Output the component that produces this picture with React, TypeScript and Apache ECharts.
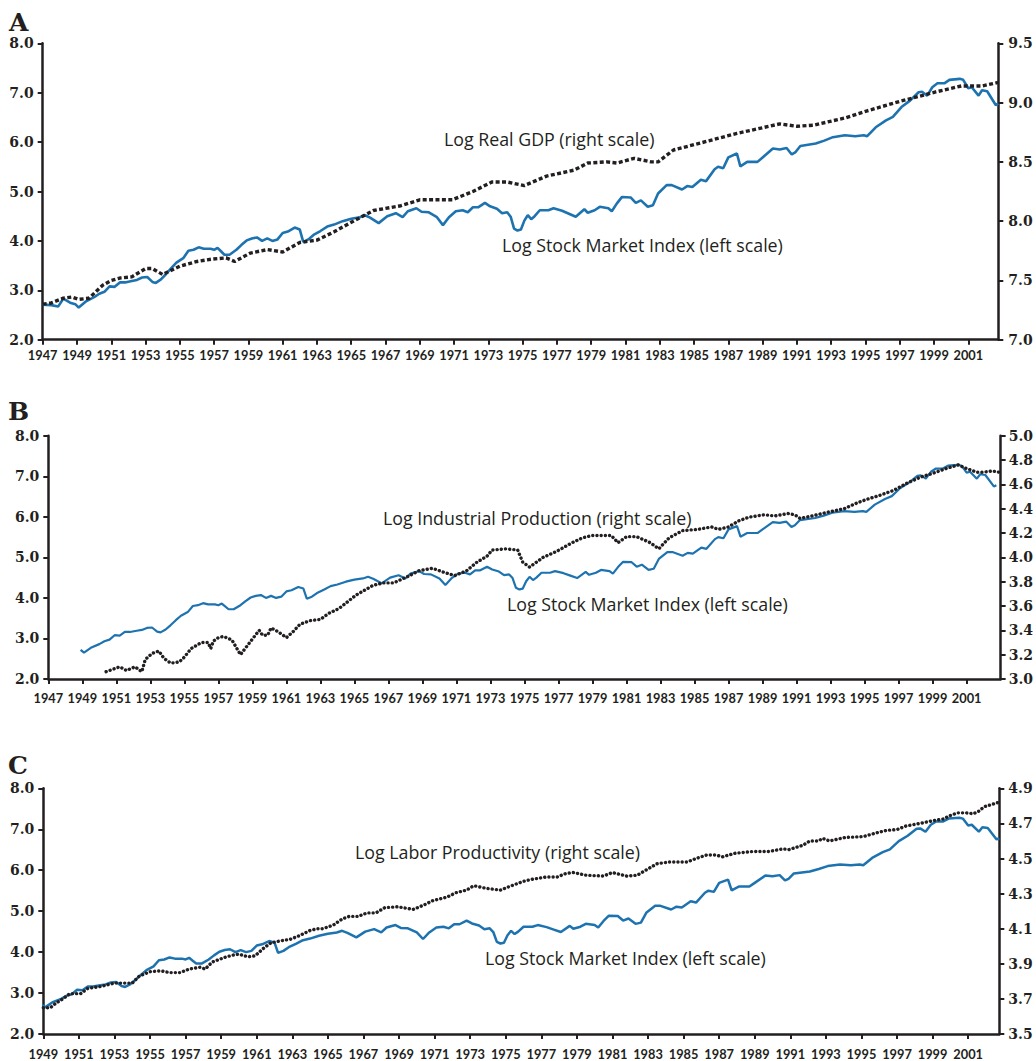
import { useEffect, useRef } from "react";
import * as echarts from "echarts";

// ---------- data ----------
const stockYears = [
  1947.0, 1947.5, 1947.9, 1948.2, 1948.6, 1948.9, 1949.1, 1949.5, 1950.0, 1950.3, 1950.6, 1950.9,
  1951.2, 1951.5, 1951.8, 1952.2, 1952.5, 1952.8, 1953.1, 1953.4, 1953.6, 1953.9, 1954.2, 1954.5,
  1954.8, 1955.2, 1955.5, 1955.8, 1956.1, 1956.4, 1956.8, 1957.0, 1957.2, 1957.4, 1957.6, 1957.9,
  1958.3, 1958.6, 1958.9, 1959.2, 1959.5, 1959.8, 1960.1, 1960.4, 1960.7, 1961.0, 1961.3, 1961.7,
  1962.0, 1962.2, 1962.5, 1962.8, 1963.2, 1963.6, 1964.0, 1964.5, 1965.0, 1965.5, 1965.8, 1966.1,
  1966.6, 1967.1, 1967.6, 1968.0, 1968.3, 1968.8, 1969.1, 1969.5, 1970.0, 1970.35, 1970.7, 1971.1,
  1971.5, 1971.8, 1972.1, 1972.4, 1972.8, 1973.1, 1973.5, 1973.8, 1974.1, 1974.3, 1974.5, 1974.7,
  1974.9, 1975.1, 1975.3, 1975.5, 1975.7, 1976.0, 1976.5, 1976.8, 1977.3, 1977.7, 1978.1, 1978.6,
  1978.8, 1979.2, 1979.5, 1980.0, 1980.2, 1980.5, 1980.8, 1981.3, 1981.6, 1981.9, 1982.3, 1982.6,
  1982.9, 1983.4, 1983.7, 1984.3, 1984.6, 1984.9, 1985.4, 1985.7, 1986.2, 1986.4, 1986.7, 1987.0,
  1987.5, 1987.7, 1988.1, 1988.7, 1989.0, 1989.6, 1990.0, 1990.4, 1990.7, 1990.9, 1991.2, 1992.1,
  1992.6, 1993.1, 1993.8, 1994.4, 1994.9, 1995.1, 1995.6, 1996.2, 1996.6, 1997.1, 1997.6, 1998.1,
  1998.3, 1998.6, 1998.9, 1999.2, 1999.6, 1999.9, 2000.5, 2000.7, 2001.0, 2001.2, 2001.6, 2001.8,
  2002.1, 2002.6, 2002.75,
];
const stockValues = [
  2.71, 2.7, 2.67, 2.83, 2.75, 2.72, 2.65, 2.77, 2.86, 2.93, 2.97, 3.08,
  3.07, 3.16, 3.16, 3.19, 3.21, 3.26, 3.27, 3.17, 3.15, 3.22, 3.33, 3.45,
  3.56, 3.65, 3.8, 3.82, 3.87, 3.84, 3.84, 3.82, 3.86, 3.79, 3.72, 3.72,
  3.82, 3.92, 4.01, 4.05, 4.07, 4.0, 4.05, 4.0, 4.03, 4.16, 4.19, 4.27,
  4.23, 3.98, 4.03, 4.12, 4.2, 4.29, 4.33, 4.4, 4.45, 4.48, 4.52, 4.47,
  4.36, 4.5, 4.56, 4.48, 4.6, 4.66, 4.59, 4.58, 4.48, 4.32, 4.48, 4.6,
  4.62, 4.58, 4.68, 4.68, 4.77, 4.7, 4.65, 4.56, 4.58, 4.49, 4.25, 4.21,
  4.23, 4.41, 4.52, 4.44, 4.5, 4.62, 4.62, 4.66, 4.61, 4.55, 4.49, 4.64,
  4.57, 4.62, 4.69, 4.66, 4.6, 4.76, 4.89, 4.88, 4.77, 4.82, 4.69, 4.72,
  4.96, 5.13, 5.13, 5.04, 5.11, 5.09, 5.24, 5.21, 5.45, 5.5, 5.47, 5.69,
  5.77, 5.51, 5.6, 5.6, 5.69, 5.87, 5.85, 5.88, 5.75, 5.79, 5.92, 5.97,
  6.03, 6.1, 6.14, 6.12, 6.14, 6.12, 6.3, 6.44, 6.51, 6.71, 6.84, 7.01,
  7.02, 6.94, 7.11, 7.19, 7.19, 7.26, 7.28, 7.26, 7.09, 7.11, 6.94, 7.05,
  7.03, 6.75, 6.78,
];

const gdpYears = [
  1947.0, 1947.5, 1948.2, 1948.7, 1949.1, 1949.7, 1950.5, 1951.0, 1951.5, 1952.2, 1953.0, 1953.4,
  1954.0, 1955.0, 1956.0, 1956.9, 1957.7, 1958.2, 1959.1, 1960.1, 1961.0, 1962.0, 1963.0, 1964.0,
  1965.0, 1966.3, 1967.9, 1969.0, 1970.9, 1972.1, 1973.2, 1974.1, 1975.1, 1976.4, 1978.0, 1978.8,
  1979.9, 1980.5, 1981.5, 1982.5, 1982.9, 1983.8, 1985.4, 1987.5, 1990.0, 1991.0, 1992.0, 1993.8,
  1995.1, 1997.0, 1999.1, 2000.6, 2001.8, 2002.75,
];
const gdpValues = [
  7.3, 7.31, 7.35, 7.36, 7.34, 7.35, 7.46, 7.5, 7.52, 7.53, 7.6, 7.6,
  7.55, 7.62, 7.66, 7.68, 7.69, 7.66, 7.73, 7.76, 7.74, 7.82, 7.84, 7.91,
  7.99, 8.09, 8.13, 8.18, 8.18, 8.25, 8.33, 8.33, 8.3, 8.38, 8.43, 8.49,
  8.5, 8.49, 8.53, 8.5, 8.5, 8.6, 8.66, 8.74, 8.82, 8.8, 8.81, 8.87,
  8.93, 9.01, 9.09, 9.14, 9.14, 9.17,
];

const ipYears = [
  1950.4, 1950.8, 1951.2, 1951.6, 1952.1, 1952.5, 1952.7, 1953.1, 1953.5, 1953.8, 1954.2, 1954.7,
  1955.0, 1955.4, 1956.0, 1956.4, 1956.55, 1956.7, 1957.0, 1957.3, 1957.8, 1958.3, 1958.9, 1959.4,
  1959.6, 1959.9, 1960.1, 1960.5, 1961.0, 1961.4, 1961.8, 1962.4, 1963.0, 1963.5, 1964.1, 1965.1,
  1966.1, 1966.7, 1967.3, 1968.1, 1968.8, 1969.6, 1970.2, 1970.9, 1971.6, 1972.2, 1972.8, 1973.1,
  1973.9, 1974.6, 1974.9, 1975.3, 1976.1, 1976.9, 1977.8, 1978.4, 1979.0, 1980.1, 1980.5, 1981.0,
  1981.6, 1982.4, 1982.9, 1983.5, 1984.3, 1985.2, 1986.0, 1986.4, 1987.0, 1987.6, 1988.2, 1989.1,
  1989.7, 1990.5, 1990.9, 1991.2, 1991.9, 1992.8, 1993.8, 1994.6, 1995.2, 1995.9, 1996.7, 1997.5,
  1998.3, 1999.0, 1999.8, 2000.5, 2001.0, 2001.6, 2002.0, 2002.5, 2002.9,
];
const ipValues = [
  3.06, 3.08, 3.1, 3.07, 3.1, 3.06, 3.16, 3.21, 3.23, 3.17, 3.13, 3.14,
  3.18, 3.25, 3.3, 3.3, 3.25, 3.31, 3.34, 3.35, 3.32, 3.2, 3.31, 3.4,
  3.36, 3.36, 3.42, 3.39, 3.34, 3.39, 3.45, 3.48, 3.49, 3.54, 3.58, 3.69,
  3.77, 3.79, 3.79, 3.84, 3.89, 3.91, 3.88, 3.85, 3.89, 3.96, 4.01, 4.06,
  4.07, 4.06, 3.96, 3.92, 4.0, 4.05, 4.12, 4.16, 4.18, 4.18, 4.12, 4.17,
  4.17, 4.12, 4.07, 4.16, 4.22, 4.23, 4.25, 4.23, 4.25, 4.3, 4.33, 4.35,
  4.34, 4.36, 4.35, 4.32, 4.34, 4.37, 4.4, 4.45, 4.48, 4.51, 4.55, 4.61,
  4.66, 4.69, 4.73, 4.76, 4.73, 4.7, 4.7, 4.71, 4.7,
];

const prodYears = [
  1949.0, 1949.4, 1949.7, 1950.1, 1950.5, 1951.1, 1951.5, 1952.2, 1953.0, 1953.5, 1954.0, 1954.4,
  1955.0, 1955.6, 1956.1, 1956.7, 1957.2, 1957.8, 1958.1, 1958.5, 1959.3, 1959.7, 1960.0, 1960.5,
  1960.9, 1961.4, 1961.8, 1962.3, 1962.9, 1963.4, 1964.0, 1964.4, 1964.7, 1965.3, 1965.8, 1966.2,
  1966.7, 1967.2, 1967.7, 1968.2, 1968.9, 1969.8, 1970.4, 1970.9, 1971.7, 1972.2, 1972.8, 1973.2,
  1973.9, 1974.7, 1975.2, 1976.0, 1976.4, 1977.3, 1977.9, 1978.4, 1978.8, 1979.5, 1980.5, 1981.0,
  1981.8, 1982.4, 1982.9, 1983.5, 1984.2, 1985.2, 1985.7, 1986.3, 1986.8, 1987.2, 1987.9, 1988.9,
  1989.8, 1990.6, 1990.9, 1991.7, 1992.1, 1992.6, 1992.8, 1993.2, 1994.1, 1995.1, 1995.8, 1996.4,
  1997.0, 1997.5, 1998.3, 1999.0, 1999.6, 2000.0, 2000.4, 2000.9, 2001.3, 2001.6, 2001.9, 2002.4,
  2002.7,
];
const prodValues = [
  3.65, 3.65, 3.675, 3.7, 3.73, 3.73, 3.76, 3.77, 3.79, 3.79, 3.79, 3.83,
  3.855, 3.86, 3.85, 3.85, 3.87, 3.88, 3.87, 3.91, 3.94, 3.95, 3.955, 3.94,
  3.945, 3.99, 4.02, 4.03, 4.04, 4.06, 4.09, 4.1, 4.1, 4.12, 4.155, 4.17,
  4.17, 4.19, 4.19, 4.22, 4.225, 4.21, 4.235, 4.26, 4.28, 4.305, 4.32, 4.345,
  4.33, 4.32, 4.34, 4.37, 4.38, 4.395, 4.395, 4.415, 4.42, 4.405, 4.4, 4.42,
  4.4, 4.405, 4.435, 4.47, 4.48, 4.48, 4.5, 4.52, 4.52, 4.51, 4.53, 4.54,
  4.54, 4.555, 4.55, 4.575, 4.6, 4.6, 4.615, 4.6, 4.62, 4.625, 4.645, 4.66,
  4.665, 4.685, 4.7, 4.715, 4.725, 4.745, 4.76, 4.76, 4.755, 4.77, 4.795, 4.81,
  4.82,
];

const xTicksAB = [
  1947, 1949, 1951, 1953, 1955, 1957, 1959, 1961, 1963, 1965, 1967, 1969, 1971, 1973,
  1975, 1977, 1979, 1981, 1983, 1985, 1987, 1989, 1991, 1993, 1995, 1997, 1999, 2001,
];
const xTicksC = [
  1949, 1951, 1953, 1955, 1957, 1959, 1961, 1963, 1965, 1967, 1969, 1971, 1973,
  1975, 1977, 1979, 1981, 1983, 1985, 1987, 1989, 1991, 1993, 1995, 1997, 1999, 2001,
];
const leftTicks = [2, 3, 4, 5, 6, 7, 8];
const rightTicksA = [7.0, 7.5, 8.0, 8.5, 9.0, 9.5];
const rightTicksB = [3.0, 3.2, 3.4, 3.6, 3.8, 4.0, 4.2, 4.4, 4.6, 4.8, 5.0];
const rightTicksC = [3.5, 3.7, 3.9, 4.1, 4.3, 4.5, 4.7, 4.9];

const panelLetters = ["A", "B", "C"];
const stockLabel = "Log Stock Market Index (left scale)";
const rightLabels = [
  "Log Real GDP (right scale)",
  "Log Industrial Production (right scale)",
  "Log Labor Productivity (right scale)",
];

// ---------- styling ----------
const INK = "#231f20";
const BLUE = "#1d73b0";

const pairs = (xs: number[], ys: number[], from = -Infinity) =>
  xs.map((x, i) => [x, ys[i]]).filter((p) => p[0] >= from);

function xAxis(gridIndex: number, min: number, max: number, ticks: number[], margin: number) {
  return {
    type: "value",
    gridIndex,
    min,
    max,
    axisLine: { show: true, onZero: false, lineStyle: { color: INK, width: 2.5 } },
    axisTick: { show: true, length: 5, customValues: ticks, lineStyle: { color: INK, width: 2 } },
    axisLabel: {
      customValues: ticks,
      formatter: (v: number) => String(Math.round(v)),
      margin,
      fontFamily: "Lato",
      fontWeight: "bold",
      fontSize: 12.8,
      color: INK,
    },
    splitLine: { show: false },
  };
}

function yAxis(gridIndex: number, position: string, min: number, max: number, ticks: number[], margin: number) {
  return {
    type: "value",
    gridIndex,
    position,
    min,
    max,
    axisLine: { show: true, onZero: false, lineStyle: { color: INK, width: 2.5 } },
    axisTick: { show: true, length: 5, customValues: ticks, lineStyle: { color: INK, width: 2 } },
    axisLabel: {
      customValues: ticks,
      formatter: (v: number) => v.toFixed(1),
      margin,
      fontFamily: "DejaVu Serif",
      fontWeight: "bold",
      fontSize: 14,
      color: INK,
    },
    splitLine: { show: false },
  };
}

function label(text: string, x: number, y: number) {
  return {
    type: "text",
    x,
    y,
    style: { text, font: "17.8px 'Open Sans'", fill: INK, verticalAlign: "middle", align: "left" },
  };
}

function letter(text: string, x: number, y: number) {
  return {
    type: "text",
    x,
    y,
    style: { text, font: "bold 25px 'DejaVu Serif'", fill: INK, verticalAlign: "middle", align: "left" },
  };
}

export default function App() {
  const ref = useRef<HTMLDivElement>(null);

  useEffect(() => {
    if (!ref.current) return;
    const chart = echarts.init(ref.current, null, { renderer: "svg" });

    const option: any = {
      animation: false,
      backgroundColor: "#ffffff",
      grid: [
        { left: 42.7, width: 955.6, top: 43.3, height: 296.4 },
        { left: 48.3, width: 953.4, top: 435.7, height: 243.3 },
        { left: 43.3, width: 956, top: 788.3, height: 245.7 },
      ],
      xAxis: [
        xAxis(0, 1947, 2002.75, xTicksAB, 9),
        xAxis(1, 1947, 2003, xTicksAB, 12),
        xAxis(2, 1949, 2002.75, xTicksC, 13),
      ],
      yAxis: [
        yAxis(0, "left", 2, 8, leftTicks, 9),
        yAxis(0, "right", 7, 9.5, rightTicksA, 10),
        yAxis(1, "left", 2, 8, leftTicks, 9),
        yAxis(1, "right", 3, 5, rightTicksB, 8),
        yAxis(2, "left", 2, 8, leftTicks, 9),
        yAxis(2, "right", 3.5, 4.9, rightTicksC, 9),
      ],
      series: [
        {
          name: "Stock A",
          type: "line",
          xAxisIndex: 0,
          yAxisIndex: 0,
          data: pairs(stockYears, stockValues),
          symbol: "none",
          lineStyle: { color: BLUE, width: 2.6 },
        },
        {
          name: "GDP",
          type: "line",
          xAxisIndex: 0,
          yAxisIndex: 1,
          data: pairs(gdpYears, gdpValues),
          symbol: "none",
          lineStyle: { color: INK, width: 3.4, type: [4, 2.4], cap: "butt" },
        },
        {
          name: "Stock B",
          type: "line",
          xAxisIndex: 1,
          yAxisIndex: 2,
          data: pairs(stockYears, stockValues, 1948.9),
          symbol: "none",
          lineStyle: { color: BLUE, width: 2.2 },
        },
        {
          name: "IP",
          type: "line",
          xAxisIndex: 1,
          yAxisIndex: 3,
          data: pairs(ipYears, ipValues),
          symbol: "none",
          lineStyle: { color: INK, width: 3.4, type: [0.1, 4.1], cap: "round" },
        },
        {
          name: "Stock C",
          type: "line",
          xAxisIndex: 2,
          yAxisIndex: 4,
          data: pairs(stockYears, stockValues, 1948.9),
          symbol: "none",
          lineStyle: { color: BLUE, width: 2.5 },
        },
        {
          name: "Productivity",
          type: "line",
          xAxisIndex: 2,
          yAxisIndex: 5,
          data: pairs(prodYears, prodValues),
          symbol: "none",
          lineStyle: { color: INK, width: 3.4, type: [0.1, 4.1], cap: "round" },
        },
      ],
      graphic: [
        letter(panelLetters[0], 9, 22),
        letter(panelLetters[1], 8, 411),
        letter(panelLetters[2], 8, 765),
        label(rightLabels[0], 444, 139),
        label(stockLabel, 502, 245),
        label(rightLabels[1], 383, 518),
        label(stockLabel, 507, 604),
        label(rightLabels[2], 355, 852),
        label(stockLabel, 485, 958),
      ],
    };

    chart.setOption(option);
    return () => chart.dispose();
  }, []);

  return (
    <div
      ref={ref}
      style={{ position: "absolute", left: 0, top: 0, width: 1036, height: 1061, background: "#fff" }}
    />
  );
}
